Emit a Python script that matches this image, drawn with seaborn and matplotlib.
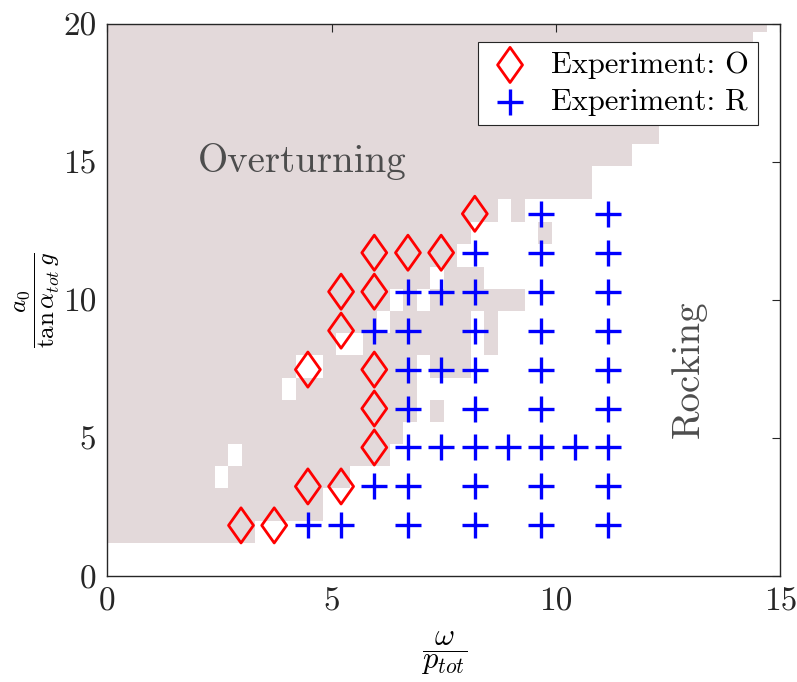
import numpy as np
import matplotlib
matplotlib.use("Agg")
import matplotlib.pyplot as plt
from matplotlib.path import Path
from matplotlib.colors import ListedColormap
import seaborn as sns

# ---------------- data ----------------
# Experiment: overturning (diamonds)
o_x = [2.98, 3.72, 4.47, 5.21, 5.95, 5.95, 4.47, 5.95, 5.21, 5.21, 5.95, 5.95, 6.70, 7.44, 8.19]
o_y = [1.85, 1.85, 3.26, 3.26, 4.67, 6.08, 7.49, 7.49, 8.90, 10.31, 10.31, 11.72, 11.72, 11.72, 13.13]

# Experiment: rocking (plus)
r_x = [4.47, 5.21, 6.70, 8.19, 9.67, 11.16,
       5.95, 6.70, 8.19, 9.67, 11.16,
       6.70, 7.44, 8.19, 8.93, 9.67, 10.42, 11.16,
       6.70, 8.19, 9.67, 11.16,
       6.70, 7.44, 8.19, 9.67, 11.16,
       5.95, 6.70, 8.19, 9.67, 11.16,
       6.70, 7.44, 8.19, 9.67, 11.16,
       8.19, 9.67, 11.16,
       9.67, 11.16]
r_y = [1.85] * 6 + [3.26] * 5 + [4.67] * 7 + [6.08] * 4 + [7.49] * 5 + \
      [8.90] * 5 + [10.31] * 5 + [11.72] * 3 + [13.13] * 2

# simulated overturning region: grid cells (x step 0.3) per row band
x_edges = np.linspace(0, 15, 51)
y_edges = [1.2, 2.0, 3.2, 4.0, 4.8, 5.6, 6.4, 7.2, 8.0, 8.8, 9.6, 10.4, 11.2,
           12.05, 12.85, 13.65, 14.85, 15.65, 16.45, 17.25, 18.05, 18.85, 19.7, 20.0]
overturn_spans = [
    [(0, 3.3)],
    [(0, 4.8)],
    [(0, 2.4), (2.7, 5.4)],
    [(0, 2.7), (3.0, 6.3)],
    [(0, 6.6)],
    [(0, 6.9), (7.2, 7.5)],
    [(0, 3.9), (4.2, 6.9)],
    [(0, 4.2), (4.8, 6.9), (7.2, 8.1)],
    [(0, 5.1), (5.7, 8.1), (8.4, 8.7)],
    [(0, 6.0), (6.3, 8.1), (8.4, 8.7)],
    [(0, 6.3), (6.6, 6.9), (7.2, 9.3)],
    [(0, 7.2), (7.5, 8.4)],
    [(0, 7.8)],
    [(0, 8.1), (9.6, 9.9)],
    [(0, 8.7), (9.0, 9.3)],
    [(0, 10.8)],
    [(0, 11.7)],
    [(0, 12.3)],
    [(0, 12.9)],
    [(0, 13.5)],
    [(0, 14.1)],
    [(0, 14.4)],
    [(0, 14.7)],
]

x_ticks = [0, 5, 10, 15]
y_ticks = [0, 5, 10, 15, 20]

# ---------------- style ----------------
sns.set_theme(style="white")
plt.rcParams["font.family"] = ["cmr10", "DejaVu Serif"]
plt.rcParams["mathtext.fontset"] = "cm"
plt.rcParams["axes.formatter.use_mathtext"] = True

AX_COL = "#262626"
SHADE = "#e3d9da"
TXT_COL = "#4d4d4d"

fig = plt.figure(figsize=(7.97, 6.82), dpi=100)
ax = fig.add_axes([0.1346, 0.1547, 0.8446, 0.8101])

# region mask
centers = (x_edges[:-1] + x_edges[1:]) / 2
mask = np.zeros((len(y_edges) - 1, len(centers)))
for i, spans in enumerate(overturn_spans):
    for a, b in spans:
        mask[i, (centers > a) & (centers < b)] = 1
ax.pcolormesh(x_edges, y_edges, np.ma.masked_where(mask == 0, mask),
              cmap=ListedColormap([SHADE]), shading="flat",
              edgecolors="none", antialiased=False, zorder=0)

diamond = Path([(0, 1), (0.71, 0), (0, -1), (-0.71, 0), (0, 1)],
               [Path.MOVETO, Path.LINETO, Path.LINETO, Path.LINETO, Path.CLOSEPOLY])

sns.scatterplot(x=o_x, y=o_y, ax=ax, marker=diamond, s=640,
                facecolor="none", edgecolor="#ff0000", linewidth=2.0,
                label="Experiment: O", zorder=3)
sns.scatterplot(x=r_x, y=r_y, ax=ax, marker="+", s=330,
                color="#0000ff", linewidth=2.4,
                label="Experiment: R", zorder=3)

ax.text(2.02, 14.65, "Overturning", fontsize=28, color=TXT_COL,
        ha="left", va="baseline")
ax.text(12.96, 7.5, "Rocking", fontsize=28, color=TXT_COL, rotation=90,
        ha="center", va="center")

ax.set_xlim(0, 15)
ax.set_ylim(0, 20)
ax.set_xticks(x_ticks)
ax.set_yticks(y_ticks)
ax.set_xticklabels([str(t) for t in x_ticks])
ax.set_yticklabels([str(t) for t in y_ticks])
ax.tick_params(direction="in", length=6, width=0.8, colors=AX_COL,
               labelsize=24, top=True, right=True, pad=8)
for s in ax.spines.values():
    s.set_color(AX_COL)
    s.set_linewidth(1.0)
    s.set_visible(True)

ax.set_xlabel(r"$\dfrac{\omega}{p_{tot}}$", fontsize=22, color="black")
ax.set_ylabel(r"$\dfrac{a_0}{\tan\alpha_{tot}\,g}$", fontsize=18, color="black")
ax.xaxis.set_label_coords(0.5, -0.095)
ax.yaxis.set_label_coords(-0.067, 0.5)

leg = ax.legend(loc="upper right", bbox_to_anchor=(0.9672, 0.9669),
                borderaxespad=0, fontsize=22, frameon=True, fancybox=False,
                edgecolor=AX_COL, framealpha=1, labelspacing=0.3,
                borderpad=0.3, handletextpad=0.6, handlelength=1.5,
                scatterpoints=1)
leg.get_frame().set_linewidth(0.8)
for t in leg.get_texts():
    t.set_color("black")

fig.savefig("out.png", dpi=100)
